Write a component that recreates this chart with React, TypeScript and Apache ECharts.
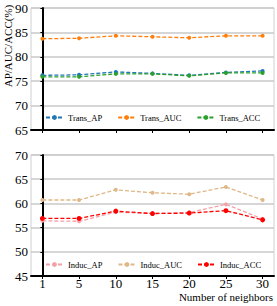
import React, { useEffect, useRef } from "react";
import * as echarts from "echarts";

const categories = ["1", "5", "10", "15", "20", "25", "30"];
const transAP = [76.2, 76.3, 76.9, 76.6, 76.2, 76.8, 77.1];
const transAUC = [83.7, 83.8, 84.3, 84.1, 83.9, 84.3, 84.3];
const transACC = [75.9, 75.9, 76.5, 76.5, 76.1, 76.7, 76.7];
const inducAP = [56.4, 56.3, 58.2, 57.9, 58.1, 59.8, 56.8];
const inducAUC = [60.7, 60.7, 62.8, 62.2, 61.9, 63.4, 60.7];
const inducACC = [56.9, 56.9, 58.4, 57.9, 58.0, 58.5, 56.6];
const topTicks = [65, 70, 75, 80, 85, 90];
const bottomTicks = [45, 50, 55, 60, 65, 70];

const FONT = "'Liberation Serif', 'DejaVu Serif', serif";

export default function App() {
  const ref = useRef<HTMLDivElement>(null);
  useEffect(() => {
    if (!ref.current) return;
    const chart = echarts.init(ref.current, null, { renderer: "svg" });
    const idx = categories.map((_, i) => i);
    const toData = (arr: number[]) => arr.map((v, i) => [i, v]);
    const mkX = (gridIndex: number, showLabels: boolean) => ({
      type: "value",
      gridIndex,
      min: -0.31,
      max: 6.31,
      axisLine: { show: true, onZero: false, lineStyle: { color: "#000", width: 2 } },
      axisTick: { show: true, customValues: idx, length: 3, lineStyle: { color: "#000", width: 1 } },
      axisLabel: {
        show: showLabels,
        customValues: idx,
        formatter: (v: number) => categories[Math.round(v)] ?? "",
        color: "#000",
        fontFamily: FONT,
        fontSize: 13,
        margin: 1,
        lineHeight: 13,
      },
      splitLine: { show: false },
    });
    const mkY = (gridIndex: number, ticks: number[]) => ({
      type: "value",
      gridIndex,
      min: ticks[0],
      max: ticks[ticks.length - 1],
      interval: 5,
      axisLine: { show: true, lineStyle: { color: "#000", width: 2 } },
      axisTick: { show: true, length: 2, lineStyle: { color: "#000" } },
      axisLabel: { color: "#000", fontFamily: FONT, fontSize: 13, margin: 3 },
      splitLine: { show: true, lineStyle: { color: "#c8c8c8", width: 1.5 } },
    });
    const mkSeries = (name: string, arr: number[], color: string, gi: number, size = 4) => ({
      name,
      type: "line",
      xAxisIndex: gi,
      yAxisIndex: gi,
      data: toData(arr),
      symbol: "circle",
      symbolSize: size,
      itemStyle: { color },
      lineStyle: { color, width: 1.3, type: [4, 2] },
    });
    const legendCommon = {
      left: 45,
      orient: "horizontal",
      itemWidth: 17,
      itemHeight: 6,
      itemGap: 15,
      textStyle: { fontFamily: FONT, fontSize: 8.5, color: "#000" },
      padding: 0,
    };
    chart.setOption({
      animation: false,
      backgroundColor: "#fff",
      grid: [
        { left: 31, right: 3, top: 8, height: 122, show: true, borderColor: "#d0d0d0", borderWidth: 1 },
        { left: 31, right: 3, top: 155, height: 121, show: true, borderColor: "#d0d0d0", borderWidth: 1 },
      ],
      xAxis: [mkX(0, false), mkX(1, true)],
      yAxis: [mkY(0, topTicks), mkY(1, bottomTicks)],
      legend: [
        { ...legendCommon, top: 113, data: ["Trans_AP", "Trans_AUC", "Trans_ACC"] },
        { ...legendCommon, top: 260, data: ["Induc_AP", "Induc_AUC", "Induc_ACC"] },
      ],
      graphic: [
        {
          type: "text",
          x: 8,
          y: 46,
          rotation: Math.PI / 2,
          style: {
            text: "AP/AUC/ACC(%)",
            fontFamily: FONT,
            fontSize: 11,
            fill: "#000",
            textAlign: "center",
            textVerticalAlign: "middle",
          },
        },
        {
          type: "text",
          x: 273,
          y: 297,
          style: {
            text: "Number of neighbors",
            fontFamily: FONT,
            fontSize: 11,
            fill: "#000",
            textAlign: "right",
            textVerticalAlign: "middle",
          },
        },
      ],
      series: [
        mkSeries("Trans_AP", transAP, "#1f77b4", 0),
        mkSeries("Trans_AUC", transAUC, "#ff7f0e", 0),
        mkSeries("Trans_ACC", transACC, "#2ca02c", 0),
        mkSeries("Induc_AP", inducAP, "#f4a0a8", 1),
        mkSeries("Induc_AUC", inducAUC, "#deb887", 1),
        mkSeries("Induc_ACC", inducACC, "#ff0000", 1, 5),
      ],
    });
    return () => chart.dispose();
  }, []);
  return <div ref={ref} style={{ width: 277, height: 306, position: "absolute", left: 0, top: 0 }} />;
}
